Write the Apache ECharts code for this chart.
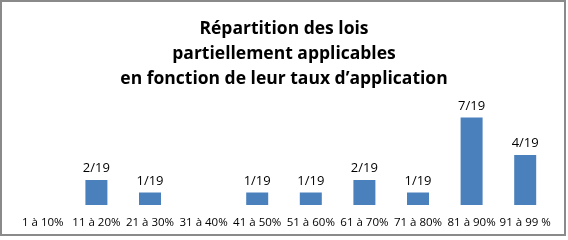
<!DOCTYPE html>
<html><head><meta charset="utf-8">
<script src="https://cdn.jsdelivr.net/npm/echarts@6/dist/echarts.min.js"></script>
<style>html,body{margin:0;padding:0;background:#fff}#c{width:568px;height:240px}</style>
</head><body><div id="c"></div>
<script>
const categories = ['1 à 10%','11 à 20%','21 à 30%','31 à 40%','41 à 50%','51 à 60%','61 à 70%','71 à 80%','81 à 90%','91 à 99 %'];
const values = [0,2,1,0,1,1,2,1,7,4];
const total = 19;
const titleLines = ['Répartition des lois','partiellement applicables',"en fonction de leur taux d’application"];

const chart = echarts.init(document.getElementById('c'), null, {renderer:'canvas'});
chart.setOption({
  animation:false,
  title:{
    text: titleLines.join('\n'),
    left:'center', top:12,
    textStyle:{fontFamily:'Open Sans', fontWeight:'bold', fontSize:17.5, lineHeight:25, color:'#000'}
  },
  graphic:[{type:'rect', shape:{x:1,y:1,width:564,height:234}, style:{fill:'none', stroke:'#8a8a8a', lineWidth:2}, silent:true}],
  grid:{left:16, right:16, top:105, bottom:35, containLabel:false},
  xAxis:{
    type:'category', data:categories,
    axisLine:{show:false}, axisTick:{show:false},
    axisLabel:{interval:0, fontFamily:'Open Sans', fontSize:11.5, color:'#000', margin:12}
  },
  yAxis:{type:'value', min:0, max:8, show:false, splitLine:{show:false}},
  series:[{
    type:'bar', data:values, barWidth:22,
    itemStyle:{color:'#4a81bd'},
    label:{show:true, position:'top', distance:5, fontFamily:'Open Sans', fontSize:13, color:'#000',
      formatter:p => p.value > 0 ? p.value + '/' + total : ''}
  }]
});
</script></body></html>
